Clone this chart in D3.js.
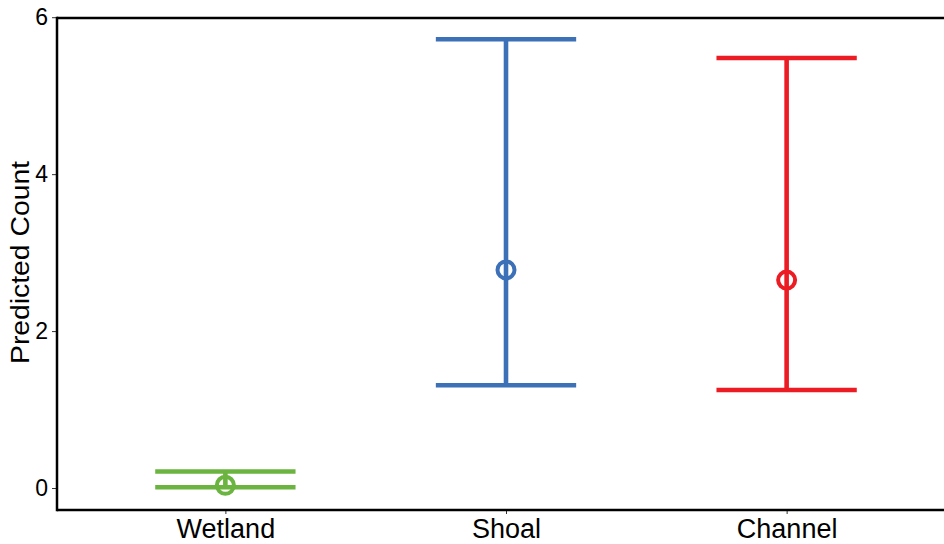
<!DOCTYPE html>
<html><head><meta charset="utf-8">
<script src="https://cdn.jsdelivr.net/npm/d3@7"></script>
<style>body{margin:0;background:#fff}svg{display:block}text{font-family:"Liberation Sans",Arial,sans-serif;fill:#000}</style>
</head><body><svg id="c" width="944" height="544"></svg>
<script>
const categories = ["Wetland", "Shoal", "Channel"];
const means = [0.035, 2.78, 2.65];
const lowers = [0.01, 1.31, 1.25];
const uppers = [0.21, 5.72, 5.48];
const colors = ["#6ab43f", "#3c70b7", "#ec1c24"];
const yTicks = [0, 2, 4, 6];

(function () {
const svg = d3.select("#c");
const pL = 57, pR = 955, pT = 18, pB = 510;
const x = d3.scalePoint().domain(categories).range([pL, pR]).padding(0.6);
const y = d3.scaleLinear().domain([-0.28, 5.99]).range([pB, pT]);
const capW = x.step() * 0.5;

// axes
const yAxis = svg.append("g").attr("transform", `translate(${pL},0)`)
  .call(d3.axisLeft(y).tickValues(yTicks).tickFormat(d3.format("d")).tickSize(5).tickPadding(4));
yAxis.select(".domain").remove();
yAxis.selectAll(".tick line").attr("stroke", "#333").attr("stroke-width", 1);
yAxis.selectAll(".tick text").attr("font-size", 23).attr("fill", "#000");

const xAxis = svg.append("g").attr("transform", `translate(0,${pB})`)
  .call(d3.axisBottom(x).tickSize(4).tickPadding(4));
xAxis.select(".domain").remove();
xAxis.selectAll(".tick line").attr("stroke", "#333").attr("stroke-width", 1);
xAxis.selectAll(".tick text").attr("font-size", 27).attr("fill", "#000").attr("dy", "0.75em");

// panel lines
svg.append("line").attr("x1", pL).attr("x2", 944).attr("y1", pT).attr("y2", pT).attr("stroke", "#000").attr("stroke-width", 2.5);
svg.append("line").attr("x1", pL).attr("x2", 944).attr("y1", pB).attr("y2", pB).attr("stroke", "#000").attr("stroke-width", 2.5);
svg.append("line").attr("x1", pL).attr("x2", pL).attr("y1", pT - 1.25).attr("y2", pB + 1.25).attr("stroke", "#000").attr("stroke-width", 2.5);

// y title
svg.append("text").attr("transform", `translate(29,262.5) rotate(-90)`)
  .attr("text-anchor", "middle").attr("font-size", 26)
  .attr("textLength", 203).attr("lengthAdjust", "spacingAndGlyphs").text("Predicted Count");

// error bars
const g = svg.append("g");
categories.forEach((c, i) => {
  const cx = x(c), col = colors[i];
  const gg = g.append("g").attr("stroke", col).attr("stroke-width", 4.6).attr("fill", "none");
  gg.append("line").attr("x1", cx).attr("x2", cx).attr("y1", y(lowers[i])).attr("y2", y(uppers[i]));
  gg.append("line").attr("x1", cx - capW / 2).attr("x2", cx + capW / 2).attr("y1", y(lowers[i])).attr("y2", y(lowers[i]));
  gg.append("line").attr("x1", cx - capW / 2).attr("x2", cx + capW / 2).attr("y1", y(uppers[i])).attr("y2", y(uppers[i]));
  gg.append("circle").attr("cx", cx).attr("cy", y(means[i])).attr("r", 8.5).attr("stroke-width", 4);
});
})();
</script></body></html>
